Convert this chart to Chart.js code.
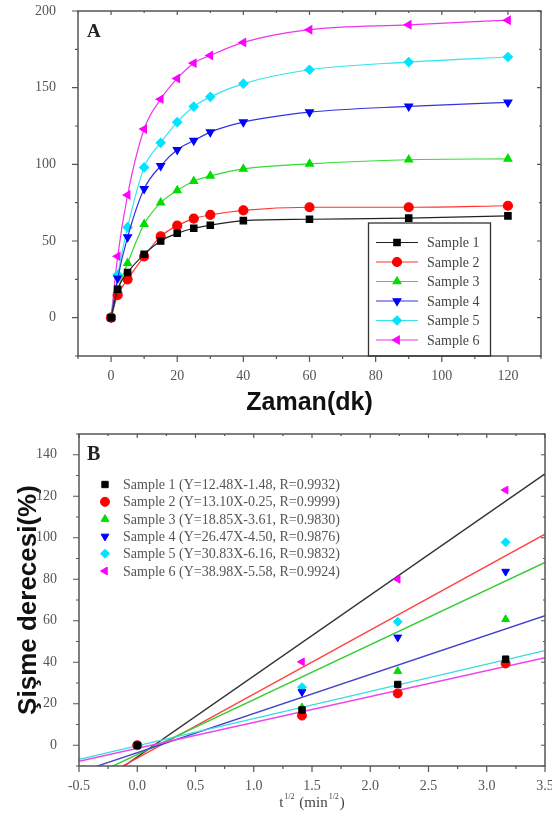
<!DOCTYPE html>
<html>
<head>
<meta charset="utf-8">
<script src="https://cdn.jsdelivr.net/npm/chart.js@4.4.1/dist/chart.umd.min.js"></script>
<style>
  body { margin: 0; background: #fff; }
  #wrap { position: relative; width: 552px; height: 822px; }
  canvas { position: absolute; left: 0; }
  #chartA { top: 0; }
  #chartB { top: 420px; }
</style>
</head>
<body>
<div id="wrap">
  <canvas id="chartA" width="552" height="420"></canvas>
  <canvas id="chartB" width="552" height="402"></canvas>
</div>
<script>
// panel A: swelling vs time
const timeA = [0, 2, 5, 10, 15, 20, 25, 30, 40, 60, 90, 120];
const sample1A = [0, 18.5, 29.4, 41.3, 50, 55, 58.3, 60.3, 63.3, 64.2, 64.9, 66.4];
const sample2A = [0, 14.8, 25, 40, 53, 60, 64.6, 67, 70, 72, 72, 73];
const sample3A = [0, 18, 35.5, 61, 75, 83, 89, 92.5, 97, 100.3, 103, 103.6];
const sample4A = [0, 25.7, 52.5, 84, 99, 109.5, 115.5, 121, 127.5, 134, 137.8, 140.4];
const sample5A = [0, 28, 59, 98, 114, 127.5, 137.7, 144, 152.6, 161.7, 166.7, 170];
const sample6A = [0, 40, 80, 123, 142.5, 156, 166, 171, 179.5, 187.8, 191, 194];

// panel B: swelling vs t^1/2
const rootT = [0, 1.414, 2.236, 3.162];
const sample1B = [0, 17, 29.3, 41.5];
const sample2B = [0, 14.3, 25, 39.4];
const sample3B = [0, 18.2, 35.7, 60.7];
const sample4B = [0, 25.7, 52, 83.7];
const sample5B = [0, 28, 59.5, 97.8];
const sample6B = [0, 40.2, 80, 123];

// fitted lines, value at x=-0.5 and x=3.5 (samples 1..6)
const fitX = [-0.5, 3.5];
const fitStart = [-7.7, -6.8, -13.0, -17.7, -21.6, -25.1];
const fitEnd = [42.2, 45.6, 62.4, 88.1, 101.7, 130.8];

const namesA = ["Sample 1", "Sample 2", "Sample 3", "Sample 4", "Sample 5", "Sample 6"];
const namesB = [
  "Sample 1 (Y=12.48X-1.48, R=0.9932)",
  "Sample 2 (Y=13.10X-0.25, R=0.9999)",
  "Sample 3 (Y=18.85X-3.61, R=0.9830)",
  "Sample 4 (Y=26.47X-4.50, R=0.9876)",
  "Sample 5 (Y=30.83X-6.16, R=0.9832)",
  "Sample 6 (Y=38.98X-5.58, R=0.9924)"
];

const colors = ["#000000", "#ff0000", "#00dd00", "#0000ff", "#00e5ff", "#ff00ff"];
const lineColors = ["#222222", "#ff3333", "#33dd33", "#3333dd", "#33e5ee", "#ee33ee"];
const fitColors = ["#ee44ee", "#33dddd", "#4444cc", "#33cc33", "#ff4444", "#333333"];
const styles = ["rect", "circle", "triangle", "triangle", "rectRot", "triangle"];
const rotations = [0, 0, 0, 180, 0, -90];

const axisColor = "#555";
const tickFont = { family: "Liberation Serif", size: 14 };

const seriesA = [sample1A, sample2A, sample3A, sample4A, sample5A, sample6A];
const seriesB = [sample1B, sample2B, sample3B, sample4B, sample5B, sample6B];

function drawMarker(ctx, i, x, y, r) {
  ctx.save();
  ctx.fillStyle = colors[i];
  ctx.strokeStyle = colors[i];
  Chart.helpers.drawPoint(ctx, { pointStyle: styles[i], radius: r, rotation: rotations[i], borderWidth: 1 }, x, y);
  ctx.restore();
}

// keep the plot box where it is: no extra room for overhanging labels
function noPad(s) {
  s.paddingLeft = 0; s.paddingRight = 0; s.paddingTop = 0; s.paddingBottom = 0;
}

// frame + ticks (major long, minor short) on all four sides
const frame = {
  id: "frame",
  afterDraw(chart) {
    const ctx = chart.ctx;
    const a = chart.chartArea;
    const xs = chart.scales.x, ys = chart.scales.y;
    ctx.save();
    ctx.strokeStyle = axisColor;
    ctx.lineWidth = 1.5;
    ctx.strokeRect(a.left, a.top, a.right - a.left, a.bottom - a.top);
    ctx.lineWidth = 1.2;
    ctx.beginPath();
    xs.ticks.forEach(t => {
      const px = xs.getPixelForValue(t.value);
      const major = t.label !== "";
      ctx.moveTo(px, a.bottom); ctx.lineTo(px, a.bottom + (major ? 6 : 3));
      ctx.moveTo(px, a.top); ctx.lineTo(px, a.top + (major ? 4 : 2));
    });
    ys.ticks.forEach(t => {
      const py = ys.getPixelForValue(t.value);
      const major = t.label !== "";
      ctx.moveTo(a.left, py); ctx.lineTo(a.left - (major ? 6 : 3), py);
      ctx.moveTo(a.right, py); ctx.lineTo(a.right - (major ? 4 : 2), py);
    });
    ctx.stroke();
    ctx.restore();
  }
};

const legendA = {
  id: "legendA",
  afterDraw(chart) {
    const ctx = chart.ctx;
    ctx.save();
    ctx.strokeStyle = "#333";
    ctx.lineWidth = 1.3;
    ctx.strokeRect(368.5, 223, 122, 133);
    ctx.font = "14px 'Liberation Serif'";
    ctx.textBaseline = "middle";
    namesA.forEach((n, i) => {
      const y = 242.5 + i * 19.5;
      ctx.strokeStyle = lineColors[i];
      ctx.lineWidth = 1.2;
      ctx.beginPath(); ctx.moveTo(376, y); ctx.lineTo(418, y); ctx.stroke();
      drawMarker(ctx, i, 397, y, 4.5);
      ctx.fillStyle = "#444";
      ctx.fillText(n, 427, y + 1);
    });
    ctx.font = "bold 19px 'Liberation Serif'";
    ctx.fillStyle = "#222";
    ctx.textBaseline = "alphabetic";
    ctx.fillText("A", 87, 37);
    ctx.restore();
  }
};

const legendB = {
  id: "legendB",
  afterDraw(chart) {
    const ctx = chart.ctx;
    const a = chart.chartArea;
    ctx.save();
    ctx.font = "14px 'Liberation Serif'";
    ctx.textBaseline = "middle";
    namesB.forEach((n, i) => {
      const y = 64.5 + i * 17.3;
      drawMarker(ctx, i, 105, y, 4.5);
      ctx.fillStyle = "#555";
      ctx.fillText(n, 123, y + 1);
    });
    ctx.font = "bold 20px 'Liberation Serif'";
    ctx.fillStyle = "#222";
    ctx.textBaseline = "alphabetic";
    ctx.fillText("B", 87, 40);

    // x title with superscripts: t^1/2 (min^1/2)
    const parts = [["t", false], ["1/2", true], [" (min", false], ["1/2", true], [")", false]];
    const big = "15px 'Liberation Serif'", small = "8px 'Liberation Serif'";
    let w = 0;
    parts.forEach(p => { ctx.font = p[1] ? small : big; w += ctx.measureText(p[0]).width + (p[1] ? 2 : 0); });
    let x = (a.left + a.right) / 2 - w / 2;
    const base = 387;
    ctx.fillStyle = "#444";
    parts.forEach(p => {
      ctx.font = p[1] ? small : big;
      if (p[1]) x += 1;
      ctx.fillText(p[0], x, p[1] ? base - 8 : base);
      x += ctx.measureText(p[0]).width + (p[1] ? 1 : 0);
    });
    ctx.restore();
  }
};

new Chart(document.getElementById("chartA"), {
  type: "line",
  data: {
    datasets: seriesA.map((s, i) => ({
      label: namesA[i],
      data: timeA.map((t, k) => ({ x: t, y: s[k] })),
      borderColor: lineColors[i],
      backgroundColor: colors[i],
      pointBorderColor: colors[i],
      borderWidth: 1.2,
      pointStyle: styles[i],
      pointRotation: rotations[i],
      pointRadius: 4.5,
      cubicInterpolationMode: "monotone",
      fill: false
    }))
  },
  options: {
    responsive: false,
    animation: false,
    layout: { padding: { top: 11, right: 11, left: 0, bottom: 0 } },
    plugins: { legend: { display: false }, tooltip: { enabled: false } },
    scales: {
      x: {
        type: "linear",
        min: -10, max: 130,
        grid: { display: false },
        border: { display: false },
        ticks: {
          stepSize: 10,
          autoSkip: false,
          maxRotation: 0,
          padding: 4,
          color: "#555",
          font: tickFont,
          callback: v => (v % 20 === 0 ? String(v) : "")
        },
        title: {
          display: true,
          text: "Zaman(dk)",
          color: "#111",
          font: { family: "Liberation Sans", size: 25, weight: "bold" },
          padding: { top: 0, bottom: 2 }
        },
        afterFit: s => { s.height = 64; noPad(s); }
      },
      y: {
        min: -25, max: 200,
        grid: { display: false },
        border: { display: false },
        ticks: {
          stepSize: 25,
          autoSkip: false,
          padding: 14,
          color: "#555",
          font: tickFont,
          callback: v => (v % 50 === 0 ? String(v) : "")
        },
        afterFit: s => { s.width = 78; noPad(s); }
      }
    }
  },
  plugins: [frame, legendA]
});

const pointSets = seriesB.map((s, i) => ({
  label: namesB[i],
  data: rootT.map((t, k) => ({ x: t, y: s[k] })),
  showLine: false,
  backgroundColor: colors[i],
  borderColor: colors[i],
  pointStyle: styles[i],
  pointRotation: rotations[i],
  pointRadius: 4.5,
  order: 1
}));
const fitSets = fitStart.map((y0, i) => ({
  label: "fit " + (i + 1),
  data: [{ x: fitX[0], y: y0 }, { x: fitX[1], y: fitEnd[i] }],
  showLine: true,
  borderColor: fitColors[i],
  borderWidth: 1.4,
  pointRadius: 0,
  order: 2
}));

new Chart(document.getElementById("chartB"), {
  type: "scatter",
  data: { datasets: fitSets.concat(pointSets) },
  options: {
    responsive: false,
    animation: false,
    layout: { padding: { top: 14, right: 7, left: 0, bottom: 0 } },
    plugins: { legend: { display: false }, tooltip: { enabled: false } },
    scales: {
      x: {
        type: "linear",
        min: -0.5, max: 3.5,
        grid: { display: false },
        border: { display: false },
        ticks: {
          stepSize: 0.25,
          autoSkip: false,
          maxRotation: 0,
          padding: 4,
          color: "#555",
          font: tickFont,
          callback: v => {
            const d = v * 2;
            return Math.abs(d - Math.round(d)) < 1e-6 ? v.toFixed(1) : "";
          }
        },
        afterFit: s => { s.height = 56; noPad(s); }
      },
      y: {
        min: -10, max: 150,
        grid: { display: false },
        border: { display: false },
        ticks: {
          stepSize: 10,
          autoSkip: false,
          padding: 14,
          color: "#555",
          font: tickFont,
          callback: v => (v % 20 === 0 ? String(v) : "")
        },
        title: {
          display: true,
          text: "Şişme derecesi(%)",
          color: "#111",
          font: { family: "Liberation Sans", size: 26, weight: "bold" },
          padding: { top: 13, bottom: 0 }
        },
        afterFit: s => { s.width = 79; noPad(s); }
      }
    }
  },
  plugins: [frame, legendB]
});
</script>
</body>
</html>
